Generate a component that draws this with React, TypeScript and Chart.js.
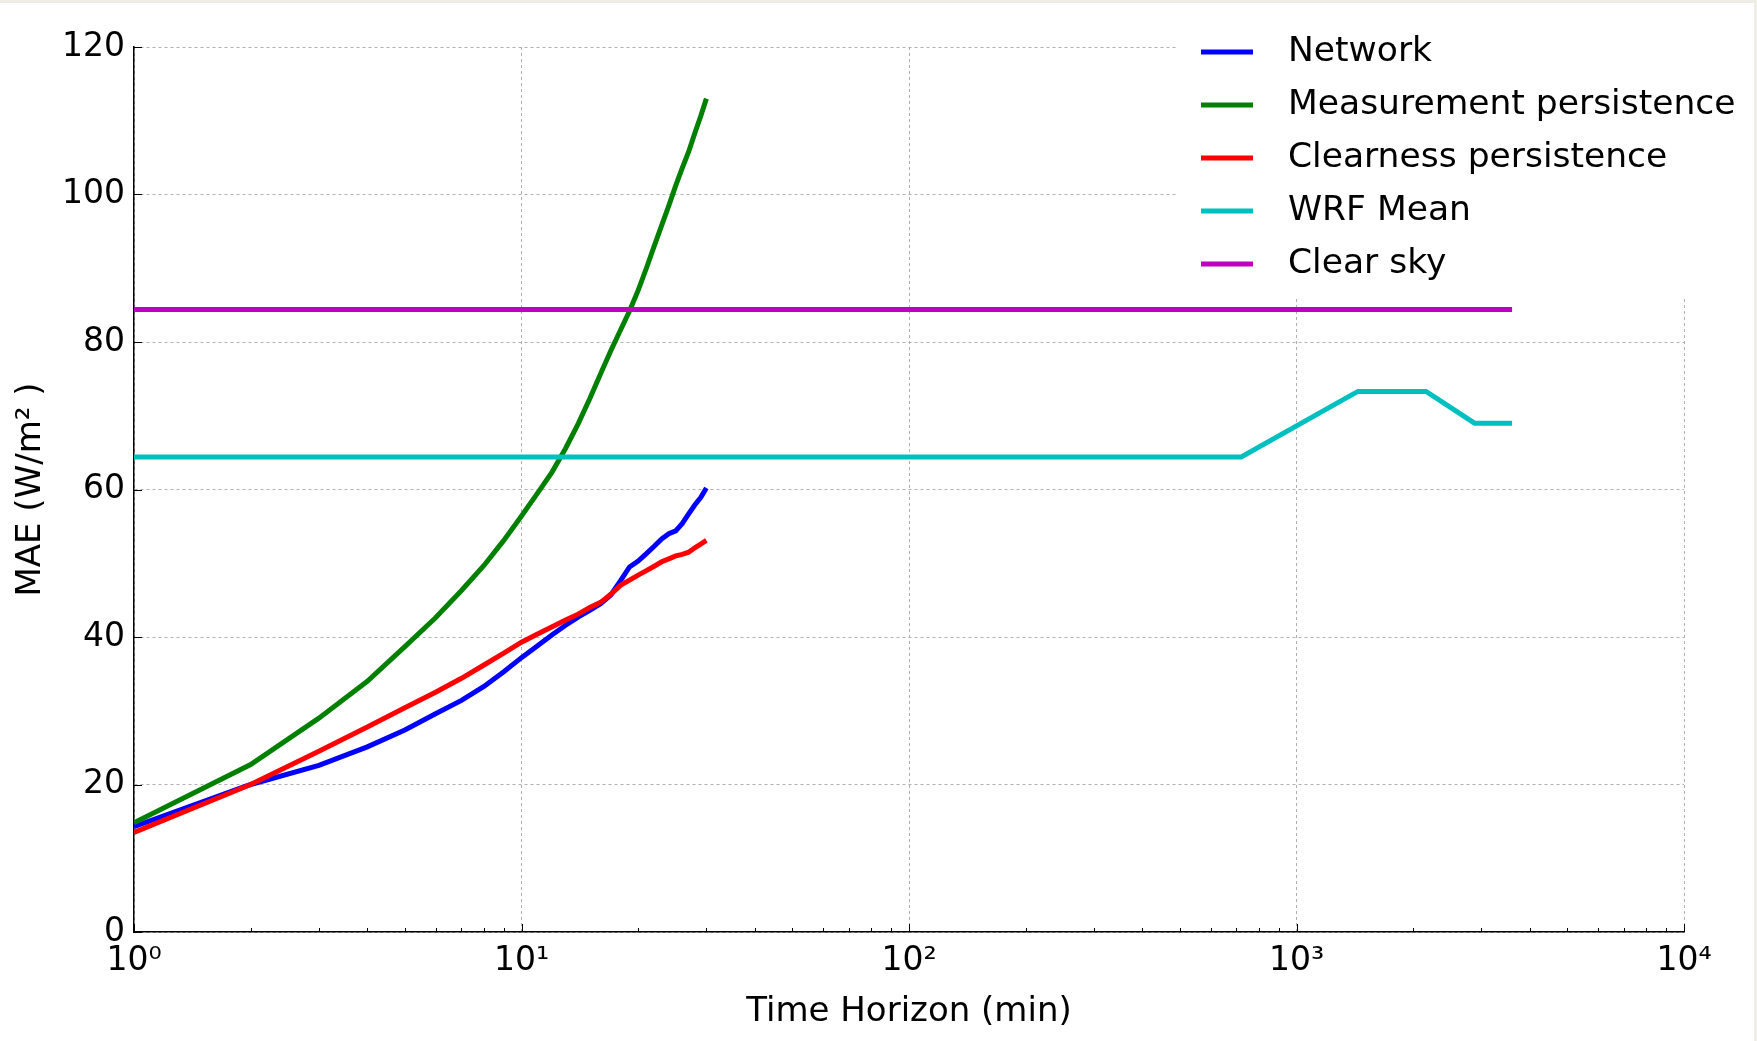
import React, { useEffect, useRef } from "react";
import { Chart, registerables } from "chart.js";

Chart.register(...registerables);

// Forecast horizons (minutes) for the short-range models
const minutes = [
  1, 2, 3, 4, 5, 6, 7, 8, 9, 10, 11, 12, 13, 14, 15,
  16, 17, 18, 19, 20, 21, 22, 23, 24, 25, 26, 27, 28, 29, 30,
];

// MAE (W/m²) per horizon
const network = [
  14.3, 20.0, 22.6, 25.1, 27.4, 29.6, 31.4, 33.3, 35.3, 37.2, 38.8, 40.3, 41.6, 42.7, 43.6,
  44.5, 45.7, 47.6, 49.5, 50.3, 51.3, 52.3, 53.3, 54.0, 54.4, 55.4, 56.7, 57.9, 58.9, 60.2,
];
const measurementPersistence = [
  14.8, 22.7, 29.0, 34.0, 38.7, 42.6, 46.3, 49.7, 53.1, 56.4, 59.5, 62.4, 65.6, 68.9, 72.3,
  75.7, 78.8, 81.6, 84.2, 87.0, 90.0, 93.0, 95.8, 98.5, 101.2, 103.6, 105.8, 108.3, 110.6, 113.0,
];
const clearnessPersistence = [
  13.5, 20.0, 24.5, 27.8, 30.4, 32.5, 34.4, 36.2, 37.8, 39.3, 40.4, 41.4, 42.3, 43.1, 44.0,
  44.7, 45.8, 47.0, 47.7, 48.4, 49.0, 49.6, 50.2, 50.6, 51.0, 51.2, 51.5, 52.1, 52.6, 53.1,
];

// Numerical weather model and clear-sky reference
const wrfHorizons = [1, 720, 1440, 2160, 2880, 3600];
const wrfMean = [64.4, 64.4, 73.3, 73.3, 69.0, 69.0];
const clearSkyHorizons = [1, 3600];
const clearSky = [84.4, 84.4];

const seriesNames = [
  "Network",
  "Measurement persistence",
  "Clearness persistence",
  "WRF Mean",
  "Clear sky",
];
const seriesColors = ["#0000ff", "#008000", "#ff0000", "#00bfbf", "#bf00bf"];

const yTicks = [0, 20, 40, 60, 80, 100, 120];
const xDecades = [1, 10, 100, 1000, 10000];
const xTickLabels = ["10\u2070", "10\u00B9", "10\u00B2", "10\u00B3", "10\u2074"];
const xMinorSteps = [2, 3, 4, 5, 6, 7, 8, 9];

const xTitle = "Time Horizon (min)";
const yTitle = "MAE (W/m\u00B2 )";

const W = 1757;
const H = 1041;
const FONT = "DejaVu Sans";
const TICK_SIZE = 33;
const TITLE_SIZE = 34;
const LEGEND_SIZE = 34.5;
const LINE_WIDTH = 5;

const toPoints = (xs: number[], ys: number[]) => xs.map((x, i) => ({ x, y: ys[i] }));

const decorPlugin = {
  id: "decor",
  beforeDraw(chart: any) {
    const { ctx } = chart;
    ctx.save();
    ctx.fillStyle = "#ffffff";
    ctx.fillRect(0, 0, W, H);
    ctx.fillStyle = "#eeeee6";
    ctx.fillRect(0, 0, W, 3);
    ctx.fillRect(W - 3, 0, 3, H);
    ctx.restore();
  },
  afterDatasetsDraw(chart: any) {
    const { ctx, chartArea, scales } = chart;
    const xs = scales.x;
    const ys = scales.y;
    ctx.save();

    // inward tick marks
    ctx.strokeStyle = "#000";
    ctx.lineWidth = 1;
    ctx.beginPath();
    for (const v of yTicks) {
      const py = Math.round(ys.getPixelForValue(v)) + 0.5;
      ctx.moveTo(chartArea.left, py);
      ctx.lineTo(chartArea.left + 8, py);
    }
    xDecades.forEach((d, i) => {
      const px = Math.round(xs.getPixelForValue(d)) + 0.5;
      ctx.moveTo(px, chartArea.bottom);
      ctx.lineTo(px, chartArea.bottom - 8);
      if (i < xDecades.length - 1) {
        for (const k of xMinorSteps) {
          const mx = Math.round(xs.getPixelForValue(k * d)) + 0.5;
          ctx.moveTo(mx, chartArea.bottom);
          ctx.lineTo(mx, chartArea.bottom - 4);
        }
      }
    });
    ctx.stroke();

    // axis titles
    ctx.fillStyle = "#000";
    ctx.font = `${TITLE_SIZE}px "${FONT}"`;
    ctx.textAlign = "center";
    ctx.textBaseline = "middle";
    ctx.fillText(xTitle, (chartArea.left + chartArea.right) / 2, 1012);
    ctx.save();
    ctx.translate(31, (chartArea.top + chartArea.bottom) / 2);
    ctx.rotate(-Math.PI / 2);
    ctx.fillText(yTitle, 0, 0);
    ctx.restore();

    // legend
    ctx.fillStyle = "#ffffff";
    ctx.fillRect(1176, 3, W - 3 - 1176, 297 - 3);
    ctx.font = `${LEGEND_SIZE}px "${FONT}"`;
    const rowY = [52, 105, 158, 211, 264];
    seriesNames.forEach((name, i) => {
      ctx.strokeStyle = seriesColors[i];
      ctx.lineWidth = LINE_WIDTH;
      ctx.lineCap = "butt";
      ctx.beginPath();
      ctx.moveTo(1201, rowY[i]);
      ctx.lineTo(1253, rowY[i]);
      ctx.stroke();
      ctx.fillStyle = "#000";
      ctx.textAlign = "left";
      ctx.fillText(name, 1288, rowY[i]);
    });
    ctx.restore();
  },
};

export default function App() {
  const canvasRef = useRef<HTMLCanvasElement | null>(null);

  useEffect(() => {
    if (!canvasRef.current) return;
    const font = { family: FONT, size: TICK_SIZE };
    const seriesData = [
      toPoints(minutes, network),
      toPoints(minutes, measurementPersistence),
      toPoints(minutes, clearnessPersistence),
      toPoints(wrfHorizons, wrfMean),
      toPoints(clearSkyHorizons, clearSky),
    ];
    const chart = new Chart(canvasRef.current, {
      type: "line",
      data: {
        datasets: seriesData.map((data, i) => ({
          label: seriesNames[i],
          data,
          borderColor: seriesColors[i],
          backgroundColor: seriesColors[i],
          borderWidth: LINE_WIDTH,
          pointRadius: 0,
          tension: 0,
          fill: false,
          borderCapStyle: "butt",
          order: seriesNames.length - i,
        })),
      },
      options: {
        responsive: false,
        animation: false,
        devicePixelRatio: 1,
        layout: { padding: { top: 47, right: 73, left: 0, bottom: 0 } },
        plugins: {
          legend: { display: false },
          tooltip: { enabled: false },
        },
        scales: {
          x: {
            type: "logarithmic",
            min: 1,
            max: 10000,
            afterBuildTicks: (s: any) => {
              s.ticks = xDecades.map((v) => ({ value: v }));
            },
            afterFit: (s: any) => {
              s.height = H - 932;
            },
            ticks: {
              callback: (v: any) => {
                const i = xDecades.indexOf(Number(v));
                return i >= 0 ? xTickLabels[i] : "";
              },
              font,
              color: "#000",
              padding: 10,
              maxRotation: 0,
              autoSkip: false,
            },
            grid: { color: "#b0b0b0", lineWidth: 1, drawTicks: false },
            border: { display: true, color: "#000", width: 1.5, dash: [3, 3] },
          },
          y: {
            min: 0,
            max: 120,
            afterBuildTicks: (s: any) => {
              s.ticks = yTicks.map((v) => ({ value: v }));
            },
            afterFit: (s: any) => {
              s.width = 134;
            },
            ticks: {
              font,
              color: "#000",
              padding: 9,
            },
            grid: { color: "#b0b0b0", lineWidth: 1, drawTicks: false },
            border: { display: true, color: "#000", width: 1.5, dash: [3, 3] },
          },
        },
      },
      plugins: [decorPlugin],
    } as any);
    return () => chart.destroy();
  }, []);

  return (
    <div style={{ position: "fixed", left: 0, top: 0, width: W, height: H, background: "#fff" }}>
      <canvas ref={canvasRef} width={W} height={H} style={{ width: W, height: H, display: "block" }} />
    </div>
  );
}
